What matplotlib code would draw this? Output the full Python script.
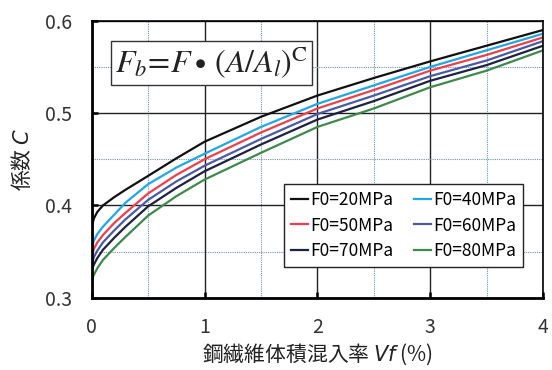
import matplotlib
matplotlib.use('Agg')
import matplotlib.pyplot as plt
from matplotlib.ticker import MultipleLocator

plt.rcParams['font.family'] = ['Noto Sans CJK JP', 'DejaVu Sans']

# 鋼繊維体積混入率 Vf (%)
vf = [0, 0.01, 0.02, 0.05, 0.1, 0.2, 0.3, 0.5, 0.75, 1, 1.5, 2, 2.5, 3, 3.5, 4]

c_20 = [0.372, 0.381, 0.386, 0.393, 0.400, 0.409, 0.417, 0.432, 0.451, 0.469, 0.496, 0.519, 0.538, 0.556, 0.573, 0.590]
c_40 = [0.354, 0.358, 0.362, 0.369, 0.377, 0.390, 0.403, 0.423, 0.441, 0.456, 0.485, 0.510, 0.530, 0.550, 0.568, 0.586]
c_50 = [0.345, 0.349, 0.353, 0.360, 0.368, 0.381, 0.392, 0.413, 0.433, 0.450, 0.479, 0.505, 0.525, 0.546, 0.563, 0.582]
c_60 = [0.336, 0.340, 0.344, 0.351, 0.360, 0.373, 0.385, 0.406, 0.426, 0.443, 0.472, 0.499, 0.519, 0.540, 0.557, 0.578]
c_70 = [0.329, 0.333, 0.336, 0.343, 0.352, 0.365, 0.377, 0.399, 0.419, 0.437, 0.466, 0.493, 0.513, 0.535, 0.552, 0.573]
c_80 = [0.318, 0.322, 0.325, 0.332, 0.341, 0.354, 0.366, 0.389, 0.410, 0.428, 0.457, 0.485, 0.505, 0.528, 0.546, 0.568]

labels = ['F0=20MPa', 'F0=40MPa', 'F0=50MPa', 'F0=60MPa', 'F0=70MPa', 'F0=80MPa']
series = [c_20, c_40, c_50, c_60, c_70, c_80]
colors = ['#111111', '#1ea8ea', '#ee3f4b', '#4b5aa6', '#1b2340', '#3d8a4c']

xticks = [0, 1, 2, 3, 4]
yticks = [0.3, 0.4, 0.5, 0.6]
ytick_labels = ['0.3', '0.4', '0.5', '0.6']

fig = plt.figure(figsize=(5.52, 3.70), dpi=100)
ax = fig.add_axes([0.166, 0.195, 0.818, 0.749])

lines = []
for ys, lab, col in zip(series, labels, colors):
    ln, = ax.plot(vf, ys, color=col, lw=1.6, label=lab)
    lines.append(ln)

ax.set_xlim(0, 4)
ax.set_ylim(0.3, 0.6)
ax.set_xticks(xticks, [str(t) for t in xticks])
ax.set_yticks(yticks, ytick_labels)
ax.xaxis.set_minor_locator(MultipleLocator(0.5))
ax.yaxis.set_minor_locator(MultipleLocator(0.05))

ax.grid(which='major', color='#222222', lw=1.0)
ax.grid(which='minor', color='#6f93a6', lw=0.8, linestyle=(0, (1, 1)))
ax.set_axisbelow(True)

ax.tick_params(which='major', direction='in', length=4, width=1.8,
               labelsize=14, labelcolor='#333333', pad=14)
ax.tick_params(which='minor', length=0)

for side in ['left', 'bottom']:
    ax.spines[side].set_linewidth(2.0)
for side in ['top', 'right']:
    ax.spines[side].set_linewidth(1.2)

ax.set_xlabel('鋼繊維体積混入率 $\\mathit{Vf}$ (%)', fontsize=15, color='#222222',
              labelpad=2, math_fontfamily='dejavusans')
ax.set_ylabel('係数 $\\mathit{C}$', fontsize=15, color='#222222', labelpad=8,
              math_fontfamily='dejavusans')

ax.text(0.052, 0.848, r'$F_b\!=\!F\bullet\,(A/A_l)^{\mathrm{C}}$', transform=ax.transAxes,
        fontsize=23, va='center', ha='left', color='#222222', math_fontfamily='stix',
        bbox=dict(boxstyle='square,pad=0.12', fc='white', ec='#333333', lw=1.0))

# legend reads row by row: 20/40, 50/60, 70/80
order = [0, 2, 4, 1, 3, 5]
leg = ax.legend([lines[i] for i in order], [labels[i] for i in order],
                ncol=2, loc='center', bbox_to_anchor=(0.691, 0.261), fontsize=12.5,
                frameon=True, fancybox=False, edgecolor='#222222', framealpha=1,
                handlelength=1.0, handletextpad=0.1, columnspacing=1.2,
                labelspacing=0.42, borderpad=0.4)
leg.get_frame().set_linewidth(1.0)

fig.savefig('out.png', dpi=100)
